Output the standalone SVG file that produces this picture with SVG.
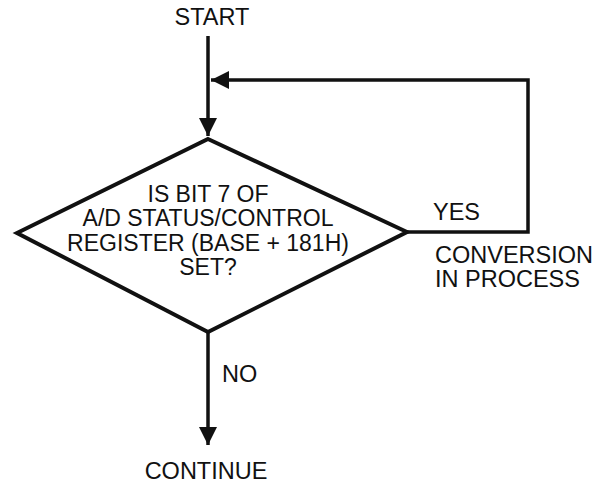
<svg xmlns="http://www.w3.org/2000/svg" width="593" height="483" viewBox="0 0 593 483">
<defs>
<style>
text{font-family:"Liberation Sans",Arial,sans-serif;font-size:23.5px;fill:#111}
.dt{font-size:23px}
.ln{fill:none;stroke:#111;stroke-width:3.5}
.dm{fill:#fff;stroke:#111;stroke-width:4;stroke-linejoin:miter}
</style>
<marker id="ah" viewBox="0 0 10 10" refX="10" refY="5" markerWidth="18" markerHeight="18" markerUnits="userSpaceOnUse" orient="auto">
<path d="M0,0 L10,5 L0,10 Z" fill="#111"/>
</marker>
</defs>
<g id="start"><text x="212" y="25" text-anchor="middle">START</text></g>
<g id="connectors">
<line class="ln" x1="208" y1="36" x2="208" y2="136" marker-end="url(#ah)"/>
<polyline class="ln" points="407,232 528,232 528,80 211,80" marker-end="url(#ah)"/>
<line class="ln" x1="208" y1="332" x2="208" y2="445" marker-end="url(#ah)"/>
</g>
<g id="decision">
<polygon class="dm" points="208,139 407,232 208,332 17,233"/>
<text class="dt" x="208" y="202" text-anchor="middle">IS BIT 7 OF</text>
<text class="dt" x="208" y="226" text-anchor="middle">A/D STATUS/CONTROL</text>
<text class="dt" x="208" y="251" text-anchor="middle">REGISTER (BASE + 181H)</text>
<text class="dt" x="208" y="275" text-anchor="middle">SET?</text>
</g>
<g id="labels">
<text x="433" y="220">YES</text>
<text x="435" y="263">CONVERSION</text>
<text x="435" y="287">IN PROCESS</text>
<text x="222" y="382">NO</text>
</g>
<g id="continue"><text x="206" y="479" text-anchor="middle">CONTINUE</text></g>
</svg>
